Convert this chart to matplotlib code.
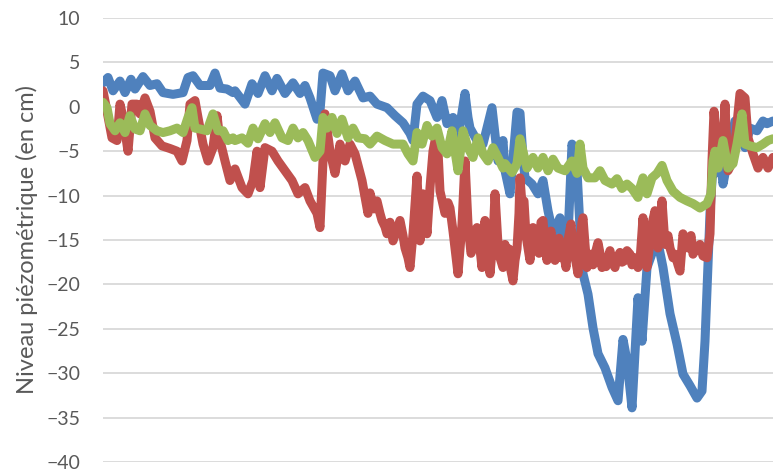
import matplotlib.pyplot as plt

# x = position along the record (pixel-ish time index), y = level in cm
blue_x = [0, 5, 10, 17, 22, 28, 32, 40, 47, 54, 60, 70, 80, 85, 90, 97, 107, 112, 117, 124, 130,
          132, 142, 149, 155, 162, 169, 174, 182, 190, 197, 202, 207, 214, 217, 220, 227, 232, 239,
          245, 252, 260, 267, 274, 284, 292, 300, 307, 310, 314, 320, 327, 334, 339, 344, 350, 355,
          362, 365, 367, 374, 380, 389, 395, 400, 402, 407, 414, 417, 420, 422, 429, 435, 440, 445,
          450, 457, 464, 469, 474, 477, 480, 485, 490, 495, 502, 509, 515, 520, 524, 529, 535, 539,
          544, 550, 555, 560, 567, 574, 580, 587, 594, 599, 602, 607, 610, 612, 614, 617, 620, 624,
          632, 637, 642, 647, 654, 660, 664, 670]
blue_y = [2.7, 3.3, 1.8, 2.9, 1.6, 3.1, 2.0, 3.4, 2.4, 2.6, 1.6, 1.4, 1.6, 3.3, 3.5, 2.4, 2.4, 3.8,
          2.1, 2.0, 1.6, 1.8, 0.3, 2.6, 1.5, 3.5, 1.8, 3.2, 1.5, 2.7, 1.5, 2.4, 1.0, -1.4, -0.5, 3.8,
          3.5, 1.8, 3.7, 1.8, 2.9, 1.0, 1.2, 0.3, -0.1, -1.0, -1.8, -3.0, -3.8, 0.3, 1.2, 0.7, -1.2,
          0.7, -1.9, -1.2, -3.5, 1.5, -1.2, -2.4, -3.8, -4.2, -0.1, -6.1, -3.8, -7.2, -9.8, -0.6, -0.7,
          -5.7, -8.0, -8.7, -9.8, -8.3, -11.7, -14.3, -12.5, -17.3, -4.2, -7.2, -13.6, -18.8, -21.1,
          -24.9, -27.8, -29.4, -31.6, -33.1, -26.2, -28.6, -33.9, -21.5, -26.4, -18.1, -16.2, -15.3,
          -18.1, -23.3, -26.7, -30.1, -31.4, -32.8, -32.0, -26.4, -12.0, -6.4, -7.5, -6.4, -5.3, -8.7,
          -6.4, -1.6, -3.0, -4.6, -2.4, -2.7, -1.6, -1.9, -1.6]

red_x = [0, 4, 9, 14, 17, 20, 25, 29, 34, 37, 42, 47, 52, 59, 67, 74, 79, 84, 87, 92, 95, 100, 105,
         110, 114, 117, 122, 127, 132, 139, 145, 150, 154, 157, 162, 169, 175, 182, 189, 195, 202,
         207, 214, 217, 220, 222, 227, 232, 237, 242, 247, 252, 259, 265, 267, 271, 274, 277, 279,
         282, 284, 287, 290, 294, 297, 300, 302, 305, 307, 310, 312, 314, 317, 320, 322, 324, 327,
         330, 334, 337, 340, 342, 345, 347, 350, 352, 355, 357, 359, 362, 365, 368, 370, 372, 374,
         377, 379, 382, 385, 387, 390, 392, 395, 397, 400,
         402, 404, 406, 408, 410, 412, 414, 416, 417, 419, 421, 423, 425, 427, 429, 430, 432, 434,
         436, 438, 440, 442, 444, 446, 448, 450, 452, 454, 456, 458, 460, 463, 465, 468, 470, 473,
         475, 477, 479, 480, 482, 484, 486, 488, 490, 492, 495, 497, 499, 501, 503, 505, 507, 509,
         512, 514, 517, 519, 522, 524, 527, 529, 532, 535,
         537, 540, 544, 549, 552, 555, 559, 562, 565, 567, 570, 572, 575, 577, 580, 583, 585, 588,
         590, 594, 597, 600, 604, 607, 609, 611, 614, 619, 622, 625, 630, 634, 637, 642, 645, 650,
         655, 660, 665, 670]
red_y = [1.8, -0.5, -3.5, -3.8, 0.3, -1.2, -5.0, 0.3, 0.3, -0.8, 1.0, -0.5, -3.5, -4.4, -4.7, -5.0,
         -6.1, -3.8, 0.3, 0.7, -1.2, -4.2, -6.1, -4.6, -1.0, -3.8, -6.1, -8.3, -7.0, -9.1, -9.8,
         -8.3, -5.0, -9.1, -4.6, -5.0, -6.1, -7.2, -8.3, -9.8, -9.1, -10.6, -12.0, -13.6, -6.1,
         -0.8, -5.0, -7.5, -4.2, -6.1, -4.2, -5.3, -8.3, -12.0, -9.7, -11.5, -10.6, -12.0, -12.8,
         -13.5, -14.3, -13.0, -15.1, -13.8, -12.8, -14.5, -15.9, -17.0, -18.1, -14.3, -11.0, -7.8,
         -15.1, -9.8, -12.0, -14.3, -9.1, -5.0, -2.7, -9.5, -11.0, -12.0, -10.8, -11.4, -14.0,
         -15.9, -18.8, -16.0, -13.2, -6.1, -13.2, -16.5, -15.9, -14.0, -13.6, -16.0, -18.1, -12.8,
         -16.5, -18.8, -15.0, -9.8, -15.5, -17.0, -18.1,
         -15.5, -17.0, -16.0, -18.5, -19.6, -17.3, -16.0, -12.0, -8.0, -11.0, -10.6, -14.5, -15.9,
         -17.3, -15.0, -13.6, -16.0, -15.1, -16.5, -13.0, -12.8, -15.5, -17.3, -15.0, -14.0, -16.5,
         -17.3, -15.0, -14.8, -17.0, -16.0, -18.1, -15.0, -13.2, -16.0, -17.5, -18.8, -15.0, -13.0,
         -12.5, -15.5, -18.1, -17.0, -16.6, -17.8, -16.6, -15.3, -16.5, -18.1, -17.0, -18.0, -17.0,
         -16.2, -17.5, -18.1, -17.0, -16.4, -17.5, -17.3, -16.2, -16.6, -17.8, -17.0, -18.1,
         -17.3, -12.5, -18.1, -13.2, -11.7, -15.9, -10.6, -15.5, -14.5, -15.9, -17.0, -16.6, -17.8,
         -18.5, -14.3, -15.5, -15.9, -14.5, -16.6, -15.8, -15.5, -16.8, -17.0, -14.3, -6.1, -0.5,
         -4.6, -6.1, 0.3, -7.2, -6.1, -1.9, 1.5, 1.0, -3.5, -5.3, -6.9, -5.7, -6.9, -5.7]

green_x = [0, 4, 7, 12, 17, 22, 27, 32, 37, 42, 47, 54, 60, 67, 74, 80, 85, 89, 92, 97, 104, 110,
           115, 120, 125, 130, 132, 139, 145, 150, 155, 162, 167, 172, 179, 185, 190, 195, 200, 205,
           212, 217, 220, 224, 229, 234, 239, 245, 250, 255, 262, 267, 274, 282, 290, 300, 305, 310,
           314, 319, 324, 329, 334, 339, 344, 349, 352, 355, 360, 365, 370, 375, 380, 385, 390, 395,
           400, 402, 409, 414, 417, 420, 424, 430, 435, 440, 445, 450, 455, 462, 469, 474, 477, 480,
           485, 492, 497, 502, 509, 514, 519, 524, 529, 535, 537, 540, 544, 549, 554, 559, 564, 570,
           577, 584, 590, 597, 604, 608, 610, 612, 615, 620, 625, 630, 634, 639, 642, 647, 654, 660,
           665, 670]
green_y = [0.5, -0.1, -1.9, -2.7, -1.8, -2.9, -1.0, -2.5, -2.7, -0.8, -2.1, -2.7, -2.9, -2.7, -2.4,
           -2.9, -1.2, -0.1, -2.4, -2.5, -2.7, -0.8, -2.7, -2.7, -3.8, -3.5, -3.8, -3.5, -4.1, -2.4,
           -3.6, -1.9, -2.9, -1.8, -3.5, -3.8, -2.4, -3.5, -2.9, -3.8, -5.7, -5.0, -1.2, -2.4, -1.2,
           -3.0, -1.4, -3.5, -2.4, -3.5, -3.6, -4.2, -3.3, -3.8, -4.2, -4.2, -5.3, -6.1, -2.9, -4.2,
           -2.1, -3.3, -2.4, -4.6, -5.3, -2.7, -5.0, -7.2, -2.7, -4.6, -5.7, -3.5, -5.3, -6.1, -4.6,
           -5.7, -6.9, -6.4, -7.4, -6.4, -3.6, -5.0, -6.9, -5.7, -6.9, -5.7, -7.2, -5.9, -6.9, -7.2,
           -6.1, -7.5, -4.2, -6.9, -8.0, -8.0, -7.2, -8.3, -8.7, -8.1, -9.2, -8.7, -9.2, -10.2, -9.1,
           -8.0, -9.8, -8.0, -7.5, -6.6, -8.3, -9.5, -10.2, -10.6, -10.9, -11.4, -10.9, -9.8, -6.1,
           -5.0, -6.9, -3.8, -6.9, -6.4, -4.2, -0.8, -4.2, -4.4, -4.6, -4.2, -3.8, -3.6]

yticks = [10, 5, 0, -5, -10, -15, -20, -25, -30, -35, -40]

plt.rcParams['font.family'] = ['Lato', 'DejaVu Sans']

fig = plt.figure(figsize=(7.73, 4.72), dpi=100)
ax = fig.add_axes([103 / 773, 10 / 472, 670 / 773, 444 / 472])

style = dict(lw=6.5, solid_joinstyle='round', solid_capstyle='round')
ax.plot(blue_x, blue_y, color='#4F81BD', **style)
ax.plot(red_x, red_y, color='#C0504D', **style)
ax.plot(green_x, green_y, color='#9BBB59', **style)

ax.set_xlim(0, 670)
ax.set_ylim(-40, 10)
ax.set_yticks(yticks)
ax.set_xticks([])
ax.grid(axis='y', color='#D9D9D9', lw=1.3)
ax.set_axisbelow(True)
for s in ax.spines.values():
    s.set_visible(False)
ax.tick_params(axis='y', length=0, pad=16.5, labelsize=14, labelcolor='#595959')
ax.set_ylabel('Niveau piézométrique (en cm)', fontsize=17, color='#595959', labelpad=6)

fig.savefig('out.png', dpi=100)
